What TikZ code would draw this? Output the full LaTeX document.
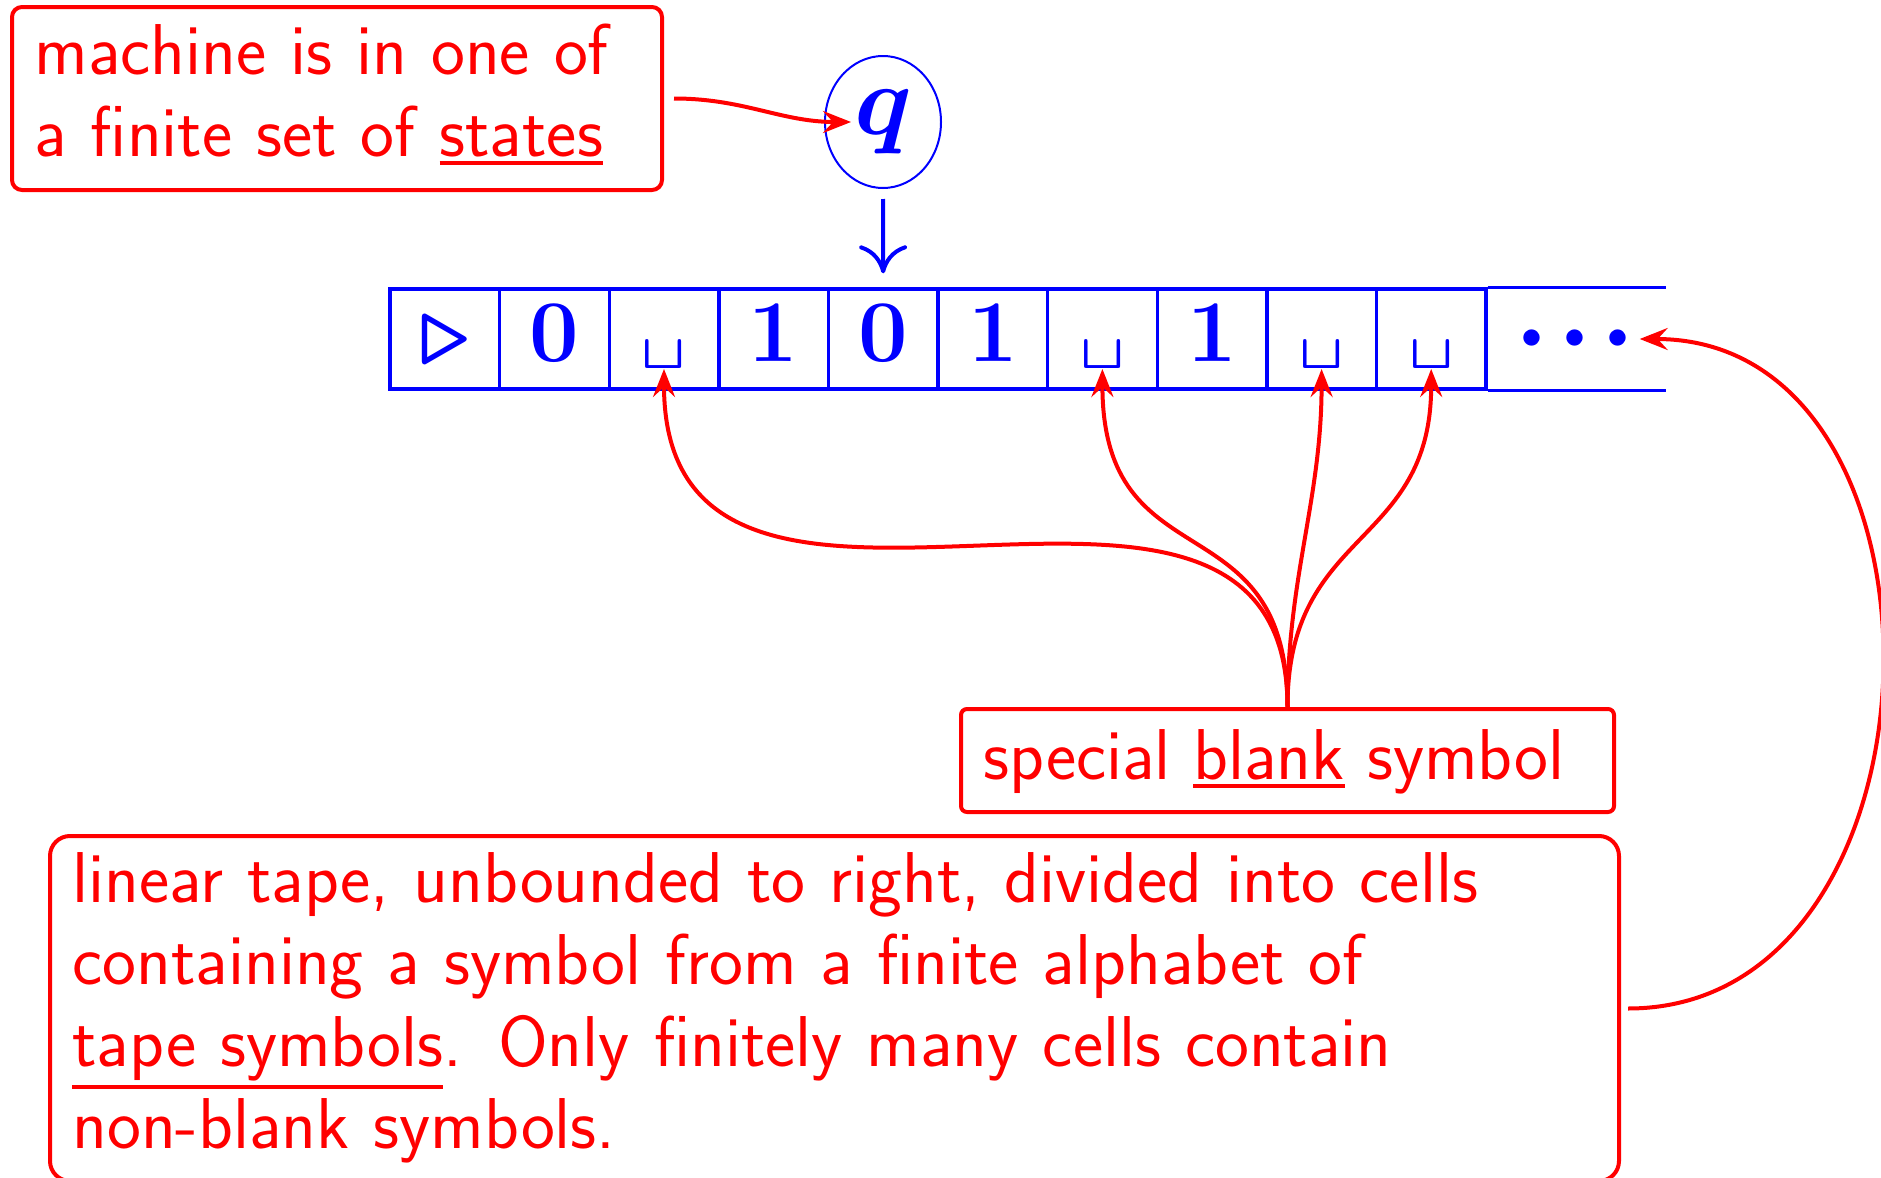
\RequirePackage{fix-cm}
\documentclass[tikz,border=0pt]{standalone}
\usepackage{fontspec}
\usepackage{graphicx}
\usetikzlibrary{arrows.meta,shapes.geometric}
\newsavebox{\ulbox}
\newcommand{\thickul}[1]{\leavevmode\sbox{\ulbox}{#1}\rlap{\rule[-\dimexpr\dp\ulbox+4pt\relax]{\wd\ulbox}{1.75pt}}\usebox{\ulbox}}
\newcommand{\blk}{\raisebox{-3.5pt}{\scalebox{1.2}[1]{\fontsize{24}{26}\selectfont$\sqcup$}}}
\newcommand{\tapedots}{\raisebox{6.5pt}{\fontsize{21}{25}\selectfont\unboldmath$\bullet$\hspace{11.2pt}$\bullet$\hspace{11.2pt}$\bullet$}}
\begin{document}
\begin{tikzpicture}[x=0.5pt,y=-0.5pt,
  redbox/.style={draw=red, line width=2pt, rectangle, inner sep=0pt},
  redtext/.style={text=red, font=\fontsize{36}{41}\selectfont\sffamily, inner sep=0pt},
  redarrow/.style={draw=red, line width=2pt, -{Stealth[length=14pt,width=11pt,inset=5pt]}},
  bluearrow/.style={draw=blue, line width=2pt, -{Computer Modern Rightarrow[length=14pt,width=24pt]}},
  cell/.style={draw=blue, line width=1.7pt, rectangle, minimum width=54.8pt, minimum height=50pt,
    inner sep=0pt, text height=36pt, text depth=14pt, text=blue,
    font=\fontsize{44}{50}\selectfont\boldmath},
]
\path[use as bounding box] (0,0) rectangle (1881,1178);
\clip (0,0) rectangle (1881,1178);

% boxes
\node[redbox, rounded corners=5pt, minimum width=325pt, minimum height=91.5pt] (topbox) at (337,98.5) {};
\node[redtext, text width=310pt, anchor=base west, align=left] (toptext) at (34,74)
  {machine is in one of\\a finite set of \thickul{states}};

\node[redbox, rounded corners=3pt, minimum width=326.5pt, minimum height=51.5pt] (blankbox) at (1287.5,760.5) {};
\node[redtext, anchor=base west] (blanktext) at (983,779) {special \thickul{blank} symbol};

\node[redbox, rounded corners=10pt, minimum width=784.5pt, minimum height=172.5pt] (tapebox) at (834.5,1008.5) {};
\node[redtext, text width=770pt, anchor=base west, align=left] (tapetext) at (72,902)
  {linear tape, unbounded to right, divided into cells\\containing a symbol from a finite alphabet of\\\thickul{tape symbols}. Only finitely many cells contain\\non-blank symbols.};

% state
\node[draw=blue, line width=1pt, ellipse, minimum width=58pt, minimum height=66pt, inner sep=0pt,
  text=blue, font=\fontsize{50}{60}\selectfont\boldmath] (q) at (883,122) {$q$};

% tape
\node[cell] (c0) at (444.8,339) {$\triangleright$};
\node[cell] (c1) at (554.4,339) {$0$};
\node[cell] (c2) at (664.0,339) {\blk};
\node[cell] (c3) at (773.6,339) {$1$};
\node[cell] (c4) at (883.2,339) {$0$};
\node[cell] (c5) at (992.8,339) {$1$};
\node[cell] (c6) at (1102.4,339) {\blk};
\node[cell] (c7) at (1212.0,339) {$1$};
\node[cell] (c8) at (1321.6,339) {\blk};
\node[cell] (c9) at (1431.2,339) {\blk};
\node[cell, draw=none, minimum width=89pt] (dots) at (1575,339) {\tapedots};
\draw[blue, line width=1.7pt] (c9.north east) -- (dots.north east);
\draw[blue, line width=1.7pt] (c9.south east) -- (dots.south east);

% connectors
\draw[redarrow] ([xshift=5pt]topbox.east) .. controls +(70,0) and +(-70,0) .. ([xshift=13.5pt]q.west);
\draw[bluearrow, shorten <=5pt, shorten >=7pt] (q.south) -- (c4.north);

\draw[redarrow] (blankbox.north) .. controls +(0,-345) and +(0,360) .. ([yshift=-4pt]c2.base);
\draw[redarrow] (blankbox.north) .. controls +(0,-210) and +(0,217) .. ([yshift=-4pt]c6.base);
\draw[redarrow] (blankbox.north) .. controls +(0,-130) and +(0,130) .. ([yshift=-4pt]c8.base);
\draw[redarrow] (blankbox.north) .. controls +(0,-180) and +(0,180) .. ([yshift=-4pt]c9.base);

\draw[redarrow] ([xshift=3.5pt]tapebox.east) .. controls +(330,0) and +(330,0) .. ([xshift=-13pt]dots.east);
\end{tikzpicture}
\end{document}
